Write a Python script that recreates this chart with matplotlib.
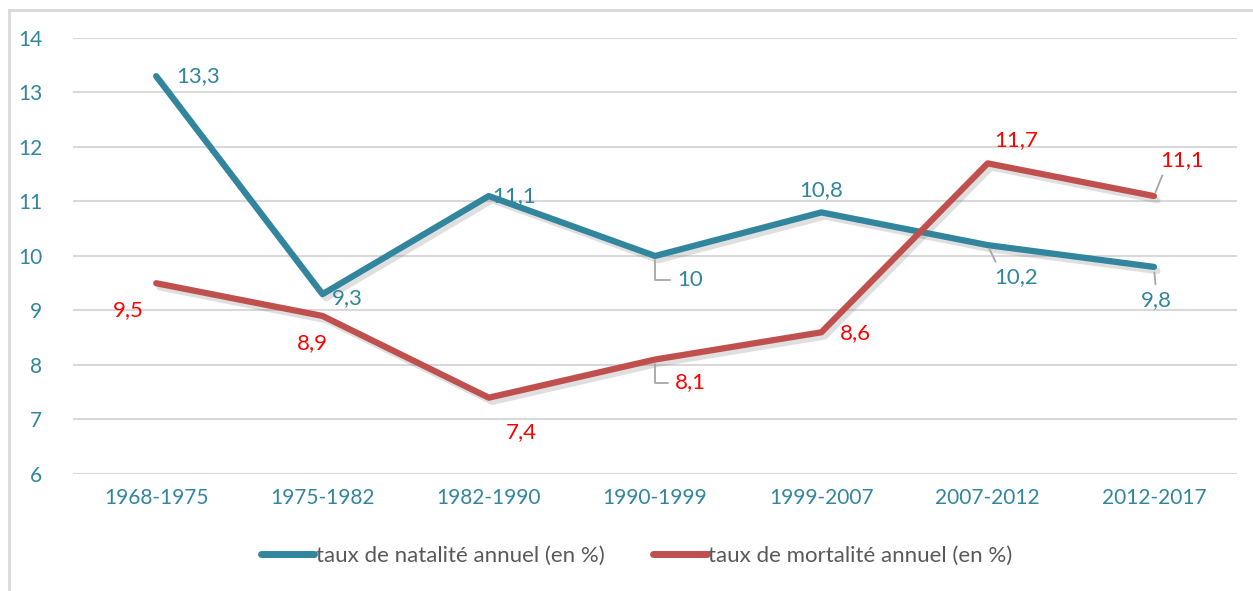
import matplotlib

matplotlib.use("Agg")
import matplotlib.pyplot as plt  # noqa: E402
import matplotlib.patheffects as pe  # noqa: E402
from matplotlib.lines import Line2D  # noqa: E402

periods = ["1968-1975", "1975-1982", "1982-1990", "1990-1999",
           "1999-2007", "2007-2012", "2012-2017"]
natalite = [13.3, 9.3, 11.1, 10.0, 10.8, 10.2, 9.8]
mortalite = [9.5, 8.9, 7.4, 8.1, 8.6, 11.7, 11.1]
label_nat = "taux de natalité annuel (en %)"
label_mort = "taux de mortalité annuel (en %)"

TEAL = "#31859C"
RED = "#C0504D"
LABEL_RED = "#FF0000"
GRID = "#D9D9D9"
LEADER = "#A6A6A6"

plt.rcParams["font.family"] = ["Lato", "DejaVu Sans"]


def fmt(v):
    return f"{v:g}".replace(".", ",")


# label offsets in pixels (dx, dy, leader style)
nat_offsets = [(42, 0, None), (25, -4, None), (25, 0, None), (35, -24, "elbow"),
               (0, 22, None), (28, -32, "diag"), (2, -33, "vert")]
mort_offsets = [(-28, -27, None), (-10, -27, None), (32, -34, None),
                (35, -23, "elbow"), (34, -1, None), (28, 23, None),
                (28, 36, "diag_up")]

fig = plt.figure(figsize=(12.53, 5.91), dpi=100)
ax = fig.add_axes([0.0583, 0.198, 0.929, 0.7377])

x = range(len(periods))
shadow = [pe.SimpleLineShadow(offset=(2.5, -3), shadow_color="#707070",
                              alpha=0.22), pe.Normal()]
ax.plot(x, natalite, color=TEAL, lw=4.5, solid_capstyle="round",
        solid_joinstyle="round", path_effects=shadow, zorder=3)
ax.plot(x, mortalite, color=RED, lw=4.5, solid_capstyle="round",
        solid_joinstyle="round", path_effects=shadow, zorder=3)

for series, offs, col in [(natalite, nat_offsets, TEAL),
                          (mortalite, mort_offsets, LABEL_RED)]:
    for i, (v, (dx, dy, lead)) in enumerate(zip(series, offs)):
        arrow = None
        if lead == "elbow":
            arrow = dict(arrowstyle="-", color=LEADER, lw=1.3, shrinkA=3,
                         shrinkB=3, relpos=(0, 0.5),
                         connectionstyle="angle,angleA=0,angleB=90,rad=0")
        elif lead == "diag":
            arrow = dict(arrowstyle="-", color=LEADER, lw=1.3, shrinkA=2,
                         shrinkB=3, relpos=(0.1, 1.0))
        elif lead == "vert":
            arrow = dict(arrowstyle="-", color=LEADER, lw=1.3, shrinkA=2,
                         shrinkB=4, relpos=(0.5, 1.0))
        elif lead == "diag_up":
            arrow = dict(arrowstyle="-", color=LEADER, lw=1.3, shrinkA=2,
                         shrinkB=3, relpos=(0.1, 0.0))
        ax.annotate(fmt(v), (i, v), xytext=(dx, dy), textcoords="offset pixels",
                    ha="center", va="center", fontsize=16, color=col,
                    arrowprops=arrow, zorder=4)

ax.set_xlim(-0.5, len(periods) - 0.5)
ax.set_ylim(6, 14)
ax.set_yticks(range(6, 15))
ax.set_xticks(list(x))
ax.set_xticklabels(periods)
ax.tick_params(axis="both", length=0, labelsize=15, labelcolor=TEAL)
ax.tick_params(axis="y", pad=22)
ax.tick_params(axis="x", pad=10)
ax.grid(axis="y", color=GRID, lw=1.5)
ax.set_axisbelow(True)
for s in ax.spines.values():
    s.set_visible(False)

handles = [Line2D([], [], color=TEAL, lw=5, solid_capstyle="round"),
           Line2D([], [], color=RED, lw=5, solid_capstyle="round")]
leg = fig.legend(handles, [label_nat, label_mort], loc="center",
                 bbox_to_anchor=(0.508, 0.06), ncol=2, frameon=False,
                 fontsize=16, handlelength=2.4, handletextpad=0.05,
                 columnspacing=2.2)
for t in leg.get_texts():
    t.set_color("#595959")

# chart frame: only left and top edges are visible in the crop
fig.add_artist(Line2D([0.0075, 0.0075], [0.0, 0.983], color=GRID, lw=2,
                      transform=fig.transFigure))
fig.add_artist(Line2D([0.0075, 1.0], [0.983, 0.983], color=GRID, lw=2,
                      transform=fig.transFigure))

fig.savefig("out.png", dpi=100)
